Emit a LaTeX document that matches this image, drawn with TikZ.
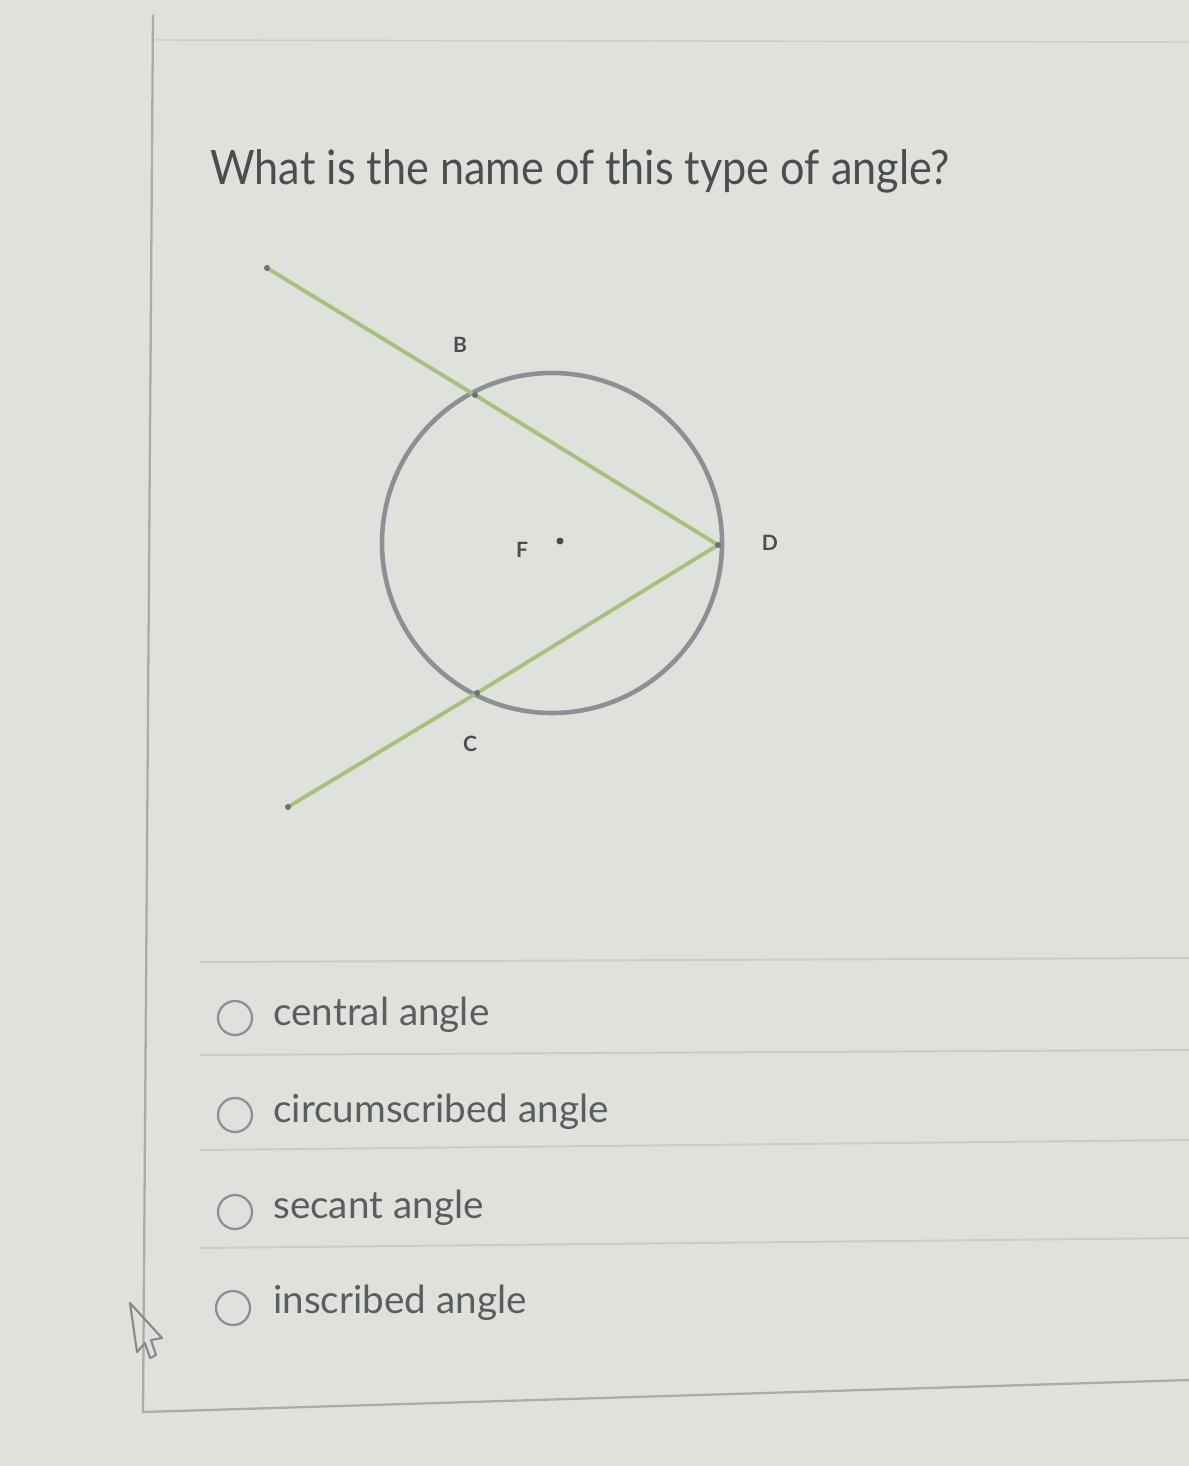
\documentclass[tikz,border=0pt]{standalone}
\usepackage{fontspec}
\setmainfont{Lato}
\newfontfamily\titlefont[FakeStretch=0.91]{Lato}
\usepackage{xcolor}
\definecolor{pagebg}{HTML}{DEE1DC}
\definecolor{rulegray}{HTML}{C9CCC8}
\definecolor{framegray}{HTML}{A9ADAA}
\definecolor{circgray}{HTML}{8C9095}
\definecolor{raygreen}{HTML}{A8C07C}
\definecolor{inkgray}{HTML}{4A4E4C}
\definecolor{optgray}{HTML}{5A5E5C}

\begin{document}
\begin{tikzpicture}[x=0.02cm, y=-0.02cm,
    ray/.style={draw=raygreen, line width=2.2pt},
    pointlabel/.style={font=\fontsize{12}{12}\selectfont\bfseries, text=inkgray},
    radio/.style={draw=circgray, line width=1.3pt, circle, minimum size=0.68cm, inner sep=0pt},
    option/.style={font=\fontsize{22}{22}\selectfont, text=optgray, anchor=base west, inner sep=0pt},
    separator/.style={draw=rulegray, line width=1.1pt}]

    % page
    \fill[pagebg] (0,0) rectangle (1189,1466);
    \useasboundingbox (0,0) rectangle (1189,1466);

    % frame of the question
    \draw[framegray, line width=1.3pt] (153,15) -- (143,1412) -- (1189,1380);
    \draw[rulegray, line width=0.8pt] (155,40) -- (1189,42);

    % question
    \node[font=\titlefont\fontsize{27}{27}\selectfont, text=inkgray, anchor=base west, inner sep=0pt] (question) at (210,185) {What is the name of this type of angle?};

    % circle with center F
    \coordinate (F) at (552,543);
    \draw[circgray, line width=2.6pt] (F) circle (170);
    \fill[inkgray] (560,541) circle (3.5);
    \node[pointlabel] (Flabel) at (522,550) {F};

    % points on the circle and free ends of the rays
    \coordinate (D) at (718,545);
    \coordinate (B) at (475,395);
    \coordinate (C) at (477,693);
    \coordinate (Bend) at (267,268);
    \coordinate (Cend) at (288,807);

    % the two rays from D
    \draw[ray] (D) -- (B) -- (Bend);
    \draw[ray] (D) -- (C) -- (Cend);
    \foreach \p in {B,C,D,Bend,Cend}
      \fill[inkgray!80] (\p) circle (3);

    \node[pointlabel] (Blabel) at (460,345) {B};
    \node[pointlabel] (Clabel) at (470,744) {C};
    \node[pointlabel] (Dlabel) at (770,543) {D};

    % answer choices
    \draw[separator] (200,962) -- (1189,958);
    \node[radio] (r1) at (235,1018) {};
    \node[option] (o1) at (273,1025) {central angle};
    \draw[separator] (200,1055) -- (1189,1050);
    \node[radio] (r2) at (235,1115) {};
    \node[option] (o2) at (273,1122) {circumscribed angle};
    \draw[separator] (200,1150) -- (1189,1140);
    \node[radio] (r3) at (235,1212) {};
    \node[option] (o3) at (273,1218) {secant angle};
    \draw[separator] (200,1248) -- (1189,1238);
    \node[radio] (r4) at (233,1308) {};
    \node[option] (o4) at (273,1313) {inscribed angle};

    % mouse pointer
    \draw[framegray!80!black, line width=1.2pt, line join=round]
      (130,1303) -- (137,1352) -- (145,1343) -- (150,1358) -- (156,1355) -- (151,1340) -- (162,1338) -- cycle;
\end{tikzpicture}
\end{document}
